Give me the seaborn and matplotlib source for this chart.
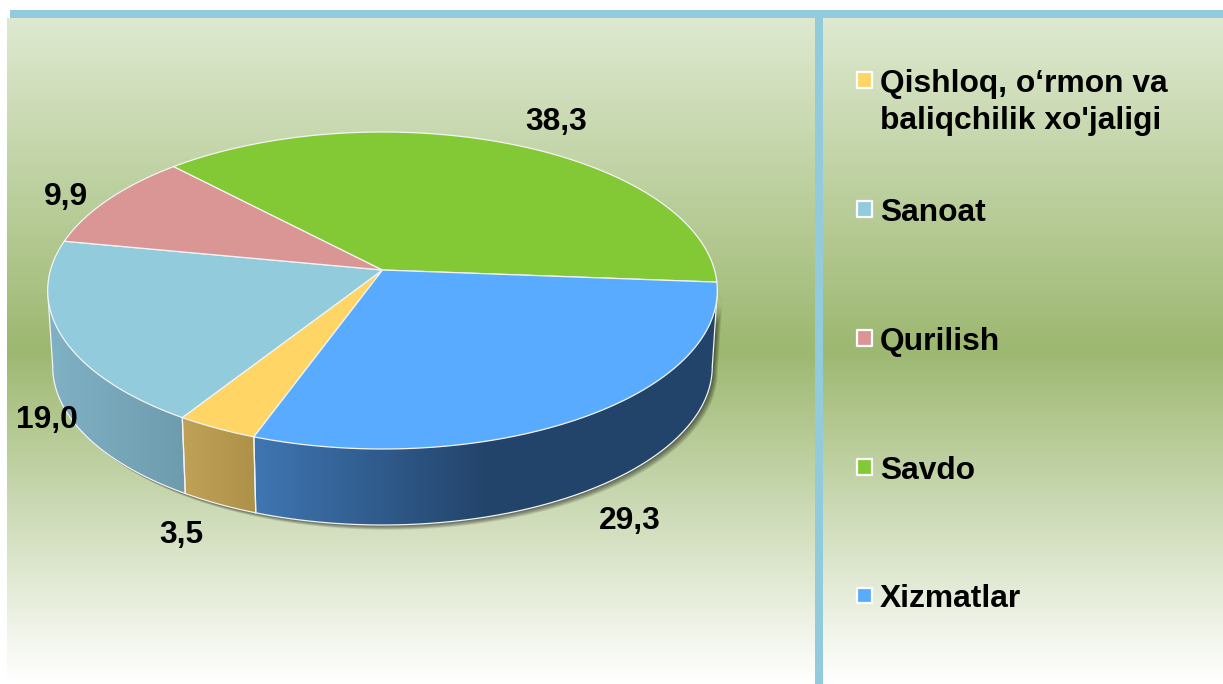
import numpy as np
import matplotlib
matplotlib.use('Agg')
import matplotlib.pyplot as plt
from matplotlib.patches import Polygon
import seaborn as sns

categories = ["Qishloq, o‘rmon va\nbaliqchilik xo'jaligi", 'Sanoat', 'Qurilish', 'Savdo', 'Xizmatlar']
values = [3.5, 19.0, 9.9, 38.3, 29.3]
value_labels = ['3,5', '19,0', '9,9', '38,3', '29,3']
top_colors = ['#FFD566', '#92CBDC', '#D99694', '#83C935', '#58ABFF']
wall_colors = [['#C0A257', '#AE9148'], ['#80B1C4', '#6E9CAE'], None, None, ['#3F76B2', '#23446A', '#23446A']]

sns.set_theme(style='white')
plt.rcParams['font.family'] = ['Liberation Sans', 'DejaVu Sans']

fig, ax = plt.subplots(figsize=(12.23, 6.84), dpi=100)
ax.set_position([0, 0, 1, 1])
ax.axis('off')

# panel background
bg = sns.blend_palette(['#DEE9D0', '#9DB871', '#FFFFFF'], as_cmap=True)
ax.imshow(np.linspace(0, 1, 512).reshape(-1, 1), extent=[7, 1223, 682, 18], aspect='auto', cmap=bg, zorder=0)
ax.axhspan(10, 18, xmin=10 / 1223, xmax=1, color='#92CBDC', lw=0, zorder=1)
ax.fill_betweenx([18, 684], 815, 823, color='#92CBDC', lw=0, zorder=1)

# pie geometry, slanted so the centre sits above the middle of the ellipse
cx, cy = 382.5, 270
A, B, k = 155.85, 332, 0.1293
depth = 76


def project(theta, drop=0, shrink=1.0):
    x, y = np.cos(theta), np.sin(theta)
    w = 1 + k * y
    return cx + shrink * B * x / w, cy - A * y / w + drop


start = np.deg2rad(250.1)
edges = start - 2 * np.pi * np.cumsum([0] + values) / sum(values)
ranges = list(zip(edges[:-1], edges[1:]))

# visible front of the wall runs between the two side extremes
front_lo = np.pi + np.arcsin(k)
front_hi = 2 * np.pi - np.arcsin(k)

t = np.linspace(front_lo, front_hi, 300)
x1, y1 = project(t)
x2, y2 = project(t, depth, 0.985)
body = np.column_stack([np.r_[x1, x2[::-1]], np.r_[y1, y2[::-1]]])

# soft shadow under the wall
for s in range(1, 7):
    ax.add_patch(Polygon(body + [s * 0.9, s * 0.8], closed=True, fc='black', ec='none', alpha=0.11, zorder=2))

for (t1, t2), wall in zip(ranges, wall_colors):
    if wall is None:
        continue
    a, b = max(t2 % (2 * np.pi), front_lo), min(t1 % (2 * np.pi), front_hi)
    t = np.linspace(a, b, 120)
    x1, y1 = project(t)
    x2, y2 = project(t, depth, 0.985)
    pts = np.column_stack([np.r_[x1, x2[::-1]], np.r_[y1, y2[::-1]]])
    clip = Polygon(pts, closed=True, fc='none', ec='none', zorder=3)
    ax.add_patch(clip)
    grad = sns.blend_palette(wall, as_cmap=True)
    im = ax.imshow(np.linspace(0, 1, 256).reshape(1, -1), extent=[pts[:, 0].min(), pts[:, 0].max(), pts[:, 1].max(), pts[:, 1].min()],
                   aspect='auto', cmap=grad, zorder=3)
    im.set_clip_path(clip)
    ax.plot(x2, y2, color='#F2F2F2', lw=0.9, zorder=4)
    ax.plot([x1[0], x2[0]], [y1[0], y2[0]], color='#F2F2F2', lw=0.9, zorder=4)
    ax.plot([x1[-1], x2[-1]], [y1[-1], y2[-1]], color='#F2F2F2', lw=0.9, zorder=4)

# top face
for (t1, t2), c in zip(ranges, top_colors):
    t = np.linspace(t1, t2, 200)
    x, y = project(t)
    ax.fill(np.r_[cx, x], np.r_[cy, y], fc=c, ec='#F4F4F4', lw=0.9, joinstyle='round', zorder=5)

# value labels
label_x = [159, 16, 44, 525, 599]
label_y = [543, 428, 205, 130, 529]
for lx, ly, txt in zip(label_x, label_y, value_labels):
    ax.text(lx, ly, txt, fontsize=22.9, fontweight='bold', color='black', ha='left', va='baseline', zorder=6)

# legend
swatch_y = [80, 209, 338, 467, 595.5]
text_y = [92, 221, 350, 479, 607]
ax.scatter([864.5] * 5, swatch_y, marker='s', s=118, c=top_colors, edgecolors='white', linewidths=1.6, zorder=6)
for ty, name in zip(text_y, categories):
    if '\n' in name:
        first, second = name.split('\n')
        ax.text(880, ty, first, fontsize=22.9, fontweight='bold', color='black', va='baseline', zorder=6)
        ax.text(880, ty + 37, second, fontsize=22.9, fontweight='bold', color='black', va='baseline', zorder=6)
    else:
        ax.text(880, ty, name, fontsize=22.9, fontweight='bold', color='black', va='baseline', zorder=6)

ax.set_xlim(0, 1223)
ax.set_ylim(684, 0)
fig.savefig('out.png', dpi=100, facecolor='white')
